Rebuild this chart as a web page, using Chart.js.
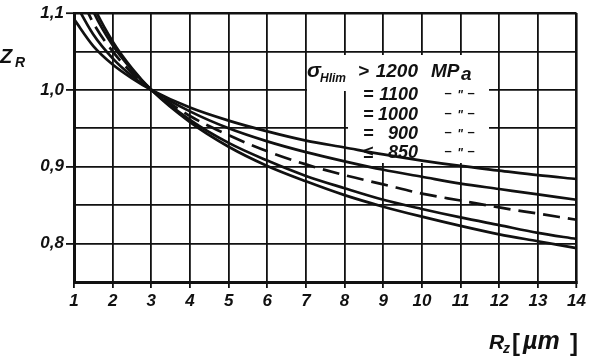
<!DOCTYPE html>
<html><head><meta charset="utf-8">
<script src="https://cdn.jsdelivr.net/npm/chart.js@4/dist/chart.umd.min.js"></script>
<style>html,body{margin:0;padding:0;background:#fff}#wrap{width:589px;height:359px;position:relative}</style>
</head><body><div id="wrap"><canvas id="c" width="589" height="359"></canvas></div>
<script>
// R_z [µm] sample positions
const rz = [1, 1.5, 2, 2.5, 3, 4, 5, 6, 7, 8, 9, 10, 11, 12, 13, 14];
// Z_R values, one array per sigma_Hlim curve
const zr1200 = [1.092, 1.057, 1.033, 1.015, 1.000, 0.977, 0.960, 0.946, 0.934, 0.925, 0.916, 0.908, 0.901, 0.895, 0.889, 0.884];
const zr1100 = [1.116, 1.072, 1.041, 1.018, 1.000, 0.972, 0.950, 0.933, 0.919, 0.907, 0.896, 0.887, 0.878, 0.871, 0.864, 0.857];
const zr1000 = [1.141, 1.087, 1.050, 1.022, 1.000, 0.966, 0.941, 0.920, 0.903, 0.889, 0.877, 0.865, 0.856, 0.847, 0.839, 0.831];
const zr900  = [1.166, 1.102, 1.058, 1.026, 1.000, 0.961, 0.931, 0.908, 0.888, 0.872, 0.857, 0.845, 0.834, 0.824, 0.814, 0.806];
const zr850  = [1.179, 1.110, 1.063, 1.028, 1.000, 0.958, 0.926, 0.901, 0.881, 0.863, 0.848, 0.835, 0.823, 0.812, 0.803, 0.794];
// legend texts
const relSymbols = ['>', '=', '=', '=', '≤'];
const sigmaValues = ['1200', '1100', '1000', '900', '850'];
// axis tick labels
const yTickValues = [0.8, 0.9, 1.0, 1.1];
const yTickLabels = ['0,8', '0,9', '1,0', '1,1'];

const INK = '#111';
const FONT = '"Liberation Sans", Arial, sans-serif';

function series(vals) { return rz.map((x, i) => ({x: x, y: vals[i]})); }
function yLabelIndex(v) { return yTickValues.findIndex(t => Math.abs(t - v) < 1e-6); }

const allSeries = [zr1200, zr1100, zr1000, zr900, zr850];
const datasets = allSeries.map((vals, i) => ({
  label: sigmaValues[i],
  data: series(vals),
  borderColor: INK,
  borderWidth: 2.7,
  borderDash: i === 2 ? [17, 8] : [],
  pointRadius: 0,
  fill: false,
  cubicInterpolationMode: 'monotone'
}));

const deco = {
  id: 'deco',
  beforeDraw(chart) {
    const c = chart.ctx;
    c.save(); c.fillStyle = '#fff'; c.fillRect(0, 0, chart.width, chart.height); c.restore();
  },
  beforeDatasetsDraw(chart) {
    const c = chart.ctx;
    c.save();
    c.fillStyle = '#fff';
    c.fillRect(307, 55, 182, 36);
    c.fillRect(348, 91, 141, 72);
    c.restore();
  },
  afterDraw(chart) {
    const c = chart.ctx;
    c.save();
    c.fillStyle = INK;
    c.textBaseline = 'alphabetic';
    // y title Z_R
    c.font = 'italic bold 20px ' + FONT;
    c.textAlign = 'left';
    c.fillText('Z', 0, 63);
    c.font = 'italic bold 14px ' + FONT;
    c.fillText('R', 15, 67);
    // x title R_z [µm]
    c.font = 'italic bold 21px ' + FONT;
    c.fillText('R', 489, 349);
    c.font = 'italic bold 14px ' + FONT;
    c.fillText('z', 503, 353);
    c.font = 'bold 24px ' + FONT;
    c.fillText('[', 512, 351);
    c.font = 'italic bold 25px ' + FONT;
    c.fillText('µm', 523, 349);
    c.font = 'bold 24px ' + FONT;
    c.fillText(']', 570, 351);
    // legend block
    c.font = 'italic bold 21px ' + FONT;
    c.fillText('σ', 307, 77);
    c.font = 'italic bold 12px ' + FONT;
    c.fillText('Hlim', 320, 82);
    c.font = 'italic bold 19px ' + FONT;
    c.fillText(relSymbols[0], 358, 77);
    c.textAlign = 'right';
    c.fillText(sigmaValues[0], 418, 77);
    c.textAlign = 'left';
    c.fillText('MP', 431, 77);
    c.fillText('a', 461, 80);
    const base = [100, 120, 139, 158];
    for (let i = 1; i < 5; i++) {
      const y = base[i - 1];
      c.font = 'italic bold 18px ' + FONT;
      c.textAlign = 'left';
      c.fillText(relSymbols[i], 363, y);
      c.textAlign = 'right';
      c.fillText(sigmaValues[i], 418, y);
      c.textAlign = 'center';
      c.font = 'bold 13px ' + FONT;
      c.fillText('–', 448, y - 3);
      c.fillText('–', 471, y - 3);
      c.font = 'italic bold 12px ' + FONT;
      c.fillText('"', 460, y - 1);
    }
    c.restore();
  }
};

new Chart(document.getElementById('c'), {
  type: 'line',
  data: { datasets: datasets },
  options: {
    responsive: false,
    animation: false,
    layout: { padding: { left: 0, right: 11, top: 13, bottom: 47 } },
    plugins: { legend: { display: false }, tooltip: { enabled: false } },
    scales: {
      x: {
        type: 'linear', min: 1, max: 14,
        ticks: { stepSize: 1, color: INK, padding: 3, font: { family: FONT, size: 17, style: 'italic', weight: 'bold' }, maxRotation: 0 },
        grid: { color: INK, lineWidth: (ctx) => (ctx.tick && (ctx.tick.value === 14)) ? 2.6 : 1.8, tickLength: 6, tickColor: INK, tickWidth: 1.8 },
        border: { display: true, color: INK, width: 3 },
        afterFit(s) { s.height = 30; }
      },
      y: {
        type: 'linear', min: 0.75, max: 1.1,
        ticks: {
          stepSize: 0.05, color: INK, padding: 2,
          font: { family: FONT, size: 17, style: 'italic', weight: 'bold' },
          callback: (v) => { const k = yLabelIndex(v); return k >= 0 ? yTickLabels[k] : ''; }
        },
        grid: {
          color: INK,
          lineWidth: (ctx) => (ctx.tick && Math.abs(ctx.tick.value - 1.1) < 1e-6) ? 2.4 : 1.8,
          tickLength: 8, tickWidth: 1.8,
          tickColor: (ctx) => (ctx.tick && yLabelIndex(ctx.tick.value) >= 0) ? INK : 'rgba(0,0,0,0)'
        },
        border: { display: true, color: INK, width: 3 },
        afterFit(s) { s.width = 74; }
      }
    }
  },
  plugins: [deco]
});
</script></body></html>
